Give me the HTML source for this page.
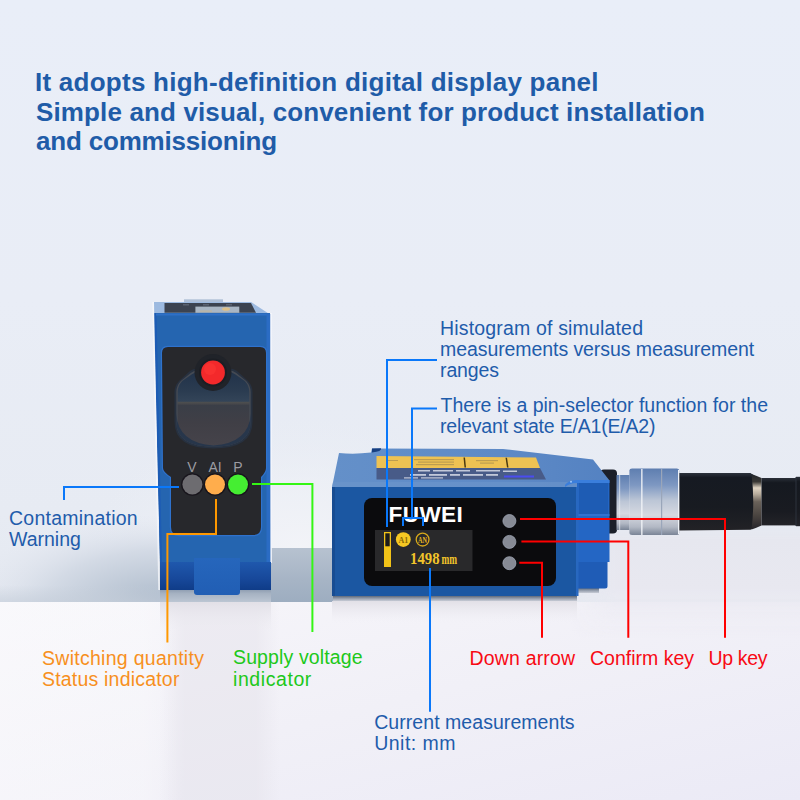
<!DOCTYPE html>
<html><head><meta charset="utf-8">
<style>
html,body{margin:0;padding:0;width:800px;height:800px;overflow:hidden;background:#e9edf6}
svg{display:block}
svg{font-family:"Liberation Sans",sans-serif}
.t{font-size:19.5px}
.b{fill:#1f5cab}
</style></head>
<body>
<svg width="800" height="800" viewBox="0 0 800 800">
<defs>
  <linearGradient id="bgTop" x1="0" y1="0" x2="0" y2="1">
    <stop offset="0" stop-color="#e9eef8"/>
    <stop offset="0.5" stop-color="#e9edf6"/>
    <stop offset="0.85" stop-color="#e7ebf3"/>
    <stop offset="1" stop-color="#e5e9f1"/>
  </linearGradient>
  <linearGradient id="bgBot" x1="0" y1="0" x2="1" y2="1">
    <stop offset="0" stop-color="#f7f6fa"/>
    <stop offset="0.5" stop-color="#f1f0f7"/>
    <stop offset="1" stop-color="#ebeaf6"/>
  </linearGradient>
  <radialGradient id="bandL" gradientUnits="userSpaceOnUse" cx="165" cy="604" r="200" gradientTransform="translate(165,604) scale(1,0.45) translate(-165,-604)">
    <stop offset="0" stop-color="#a9b7c9"/>
    <stop offset="0.25" stop-color="#bcc7d5"/>
    <stop offset="0.6" stop-color="#d3dae5"/>
    <stop offset="1" stop-color="#e3e7f0" stop-opacity="0"/>
  </radialGradient>
  <linearGradient id="bandR" x1="0" y1="0" x2="0" y2="1">
    <stop offset="0" stop-color="#e6e8f0" stop-opacity="0"/>
    <stop offset="0.12" stop-color="#e6e7ef"/>
    <stop offset="0.55" stop-color="#e8e8f0"/>
    <stop offset="1" stop-color="#eeedf5" stop-opacity="0"/>
  </linearGradient>
  <linearGradient id="shadowL" x1="0" y1="0" x2="0" y2="1">
    <stop offset="0" stop-color="#8595ab"/>
    <stop offset="0.4" stop-color="#a6b2c2"/>
    <stop offset="1" stop-color="#bcc6d3"/>
  </linearGradient>
  <linearGradient id="bandM" x1="0" y1="0" x2="0" y2="1">
    <stop offset="0" stop-color="#b7c2d0"/>
    <stop offset="0.6" stop-color="#a6b4c5"/>
    <stop offset="1" stop-color="#9dadc0"/>
  </linearGradient>
  <linearGradient id="bandV" x1="0" y1="0" x2="0" y2="1">
    <stop offset="0" stop-color="#000" stop-opacity="0"/>
    <stop offset="1" stop-color="#38506e" stop-opacity="0.12"/>
  </linearGradient>
  <linearGradient id="lens" x1="0" y1="0" x2="0" y2="1">
    <stop offset="0" stop-color="#22334a"/>
    <stop offset="0.25" stop-color="#2a3b50"/>
    <stop offset="0.40" stop-color="#334458"/>
    <stop offset="0.42" stop-color="#4e4e4e"/>
    <stop offset="0.46" stop-color="#3a3e47"/>
    <stop offset="0.7" stop-color="#403f46"/>
    <stop offset="1" stop-color="#45434a"/>
  </linearGradient>
  <linearGradient id="silver" x1="0" y1="0" x2="0" y2="1">
    <stop offset="0" stop-color="#5e7eb0"/>
    <stop offset="0.25" stop-color="#7e98c2"/>
    <stop offset="0.48" stop-color="#bcc6d6"/>
    <stop offset="0.7" stop-color="#d6d9e1"/>
    <stop offset="0.88" stop-color="#b2b8c4"/>
    <stop offset="1" stop-color="#7a8496"/>
  </linearGradient>
  <linearGradient id="black" x1="0" y1="0" x2="0" y2="1">
    <stop offset="0" stop-color="#2c323c"/>
    <stop offset="0.08" stop-color="#161a22"/>
    <stop offset="0.6" stop-color="#181b21"/>
    <stop offset="1" stop-color="#222226"/>
  </linearGradient>
  <radialGradient id="glow">
    <stop offset="0" stop-color="#f3f4f8" stop-opacity="0.95"/>
    <stop offset="0.5" stop-color="#f0f2f7" stop-opacity="0.6"/>
    <stop offset="1" stop-color="#eceff5" stop-opacity="0"/>
  </radialGradient>
  <linearGradient id="shadowR" x1="0" y1="0" x2="0" y2="1">
    <stop offset="0" stop-color="#4a5464"/>
    <stop offset="0.5" stop-color="#8a94a4"/>
    <stop offset="1" stop-color="#c8ccd6"/>
  </linearGradient>
  <linearGradient id="reflR" x1="0" y1="0" x2="0" y2="1">
    <stop offset="0" stop-color="#e2e0e7"/>
    <stop offset="1" stop-color="#eeedf3" stop-opacity="0"/>
  </linearGradient>
  <linearGradient id="bandLV" x1="0" y1="0" x2="0" y2="1">
    <stop offset="0" stop-color="#c4cdd9" stop-opacity="0"/>
    <stop offset="1" stop-color="#c4cdd9" stop-opacity="0.6"/>
  </linearGradient>
  <linearGradient id="ringG" x1="0" y1="0" x2="0" y2="1">
    <stop offset="0" stop-color="#22252a"/>
    <stop offset="0.14" stop-color="#3a3834"/>
    <stop offset="0.25" stop-color="#e0d4c2"/>
    <stop offset="0.36" stop-color="#b8ac9c"/>
    <stop offset="0.5" stop-color="#6a625a"/>
    <stop offset="0.75" stop-color="#4a4440"/>
    <stop offset="1" stop-color="#26242a"/>
  </linearGradient>
  <linearGradient id="hfade" x1="0" y1="0" x2="1" y2="0">
    <stop offset="0" stop-color="#fff" stop-opacity="0"/>
    <stop offset="0.2" stop-color="#fff" stop-opacity="1"/>
    <stop offset="1" stop-color="#fff" stop-opacity="1"/>
  </linearGradient>
  <mask id="mR" maskUnits="userSpaceOnUse" x="570" y="525" width="230" height="115"><rect x="570" y="525" width="230" height="115" fill="url(#hfade)"/></mask>
  <linearGradient id="streakW" x1="0" y1="0" x2="1" y2="0">
    <stop offset="0" stop-color="#fbfbfd" stop-opacity="0.5"/>
    <stop offset="0.8" stop-color="#fbfbfd" stop-opacity="0.4"/>
    <stop offset="1" stop-color="#fbfbfd" stop-opacity="0"/>
  </linearGradient>
  <linearGradient id="streakG" x1="0" y1="0" x2="1" y2="0">
    <stop offset="0" stop-color="#e4e2ea" stop-opacity="0"/>
    <stop offset="0.2" stop-color="#e4e2ea" stop-opacity="0.5"/>
    <stop offset="0.8" stop-color="#e4e2ea" stop-opacity="0.5"/>
    <stop offset="1" stop-color="#e4e2ea" stop-opacity="0"/>
  </linearGradient>
  <linearGradient id="cableG" x1="0" y1="0" x2="0" y2="1">
    <stop offset="0" stop-color="#2a2f38"/>
    <stop offset="0.1" stop-color="#151920"/>
    <stop offset="0.7" stop-color="#191b21"/>
    <stop offset="1" stop-color="#232328"/>
  </linearGradient>
  <linearGradient id="topR" x1="0" y1="0" x2="1" y2="0">
    <stop offset="0" stop-color="#6490c9"/>
    <stop offset="0.6" stop-color="#5e8ac6"/>
    <stop offset="1" stop-color="#5482c2"/>
  </linearGradient>
  <linearGradient id="lowL" x1="0" y1="0" x2="0" y2="1">
    <stop offset="0" stop-color="#1f58ad"/>
    <stop offset="0.6" stop-color="#17489a"/>
    <stop offset="1" stop-color="#0f3c88"/>
  </linearGradient>
  <linearGradient id="tabG" x1="0" y1="0" x2="0" y2="1">
    <stop offset="0" stop-color="#2666bc"/>
    <stop offset="1" stop-color="#215eb4"/>
  </linearGradient>
</defs>

<!-- background -->
<rect x="0" y="0" width="800" height="602" fill="url(#bgTop)"/>
<ellipse cx="300" cy="548" rx="210" ry="130" fill="url(#glow)"/>
<!-- band / table edge shadow -->
<rect x="0" y="500" width="160" height="102" fill="url(#bandL)"/>
<rect x="0" y="585" width="160" height="17" fill="url(#bandLV)"/>
<rect x="270" y="548" width="64" height="54" fill="url(#bandM)"/>
<rect x="0" y="602" width="800" height="198" fill="url(#bgBot)"/>
<rect x="0" y="602" width="180" height="198" fill="url(#streakW)"/>
<rect x="160" y="602" width="120" height="198" fill="url(#streakG)"/>
<rect x="570" y="525" width="230" height="115" fill="url(#bandR)" mask="url(#mR)"/>
<rect x="333" y="595" width="244" height="6" fill="url(#shadowR)"/>
<rect x="577" y="587" width="22" height="6" fill="url(#shadowR)"/>
<rect x="332" y="601" width="245" height="22" fill="url(#reflR)"/>
<rect x="160" y="602" width="111" height="30" fill="url(#reflR)"/>
<rect x="160" y="588" width="111" height="14" fill="url(#shadowL)"/>

<!-- ============ LEFT SENSOR ============ -->
<g id="left">
  <!-- top face -->
  <rect x="184" y="299.3" width="39" height="3" fill="#afc0d8"/>
  <polygon points="154,302 251,302 268.6,313.5 154,313.5" fill="#9dbae0"/>
  <polygon points="164.5,303 251,303 256,312.8 164.5,312.8" fill="#3c4350"/>
  <rect x="195.4" y="306.6" width="43.9" height="6.2" fill="#a9b6c4"/>
  <ellipse cx="226" cy="309" rx="4" ry="1.8" fill="#dcc08a"/>
  <rect x="200" y="310.5" width="12" height="1.2" fill="#c8b48c" opacity="0.7"/>
  <g fill="#5a6270"><rect x="183" y="304" width="6" height="1.5"/><rect x="203" y="304" width="6" height="1.5"/><rect x="226" y="304" width="6" height="1.5"/></g>
  <!-- body -->
  <path d="M154,313 L270,313 L271,562 L160,562 Z" fill="#2565b0"/>
  <path d="M154,313 L156.5,313 L162,562 L160,562 Z" fill="#1d5cb4"/>
  <path d="M152.3,302 L154,302 L160,590 L158.3,590 Z" fill="#f6f7fb" opacity="0.8"/>
  <rect x="156" y="313.5" width="114" height="2" fill="#2f70c6"/>
  <rect x="266.5" y="314" width="4" height="248" fill="#2b6cc4"/>
  <rect x="270.3" y="313" width="1.7" height="250" fill="#f4f6fb" opacity="0.85"/>
  <rect x="160" y="562" width="111" height="28" fill="url(#lowL)"/>
  <path d="M194,558 L240,558 L240,592 Q240,595 237,595 L197,595 Q194,595 194,592 Z" fill="url(#tabG)"/>
  <!-- panel -->
  <path d="M168,345.8 L260,345.8 Q267.2,345.8 267.2,353 L267.2,468 Q267.2,472.5 262.2,477.5 L262.2,527 Q262.2,536.2 253,536.2 L179,536.2 Q169.8,536.2 169.8,527 L169.8,477.5 Q161.8,472.5 161.8,468 L160.8,353 Q160.8,345.8 168,345.8 Z" fill="#2f72cc"/>
  <path d="M168,347 L260,347 Q266,347 266,353 L266,468 Q266,472 261,477 L261,527 Q261,535 253,535 L179,535 Q171,535 171,527 L171,477 Q163,472 163,468 L162,353 Q162,347 168,347 Z" fill="#27282c"/>
  <!-- lens -->
  <path d="M174.5,422 L174.5,392 Q174.5,386 179.0,381 L190.0,371.0 Q193.0,368.5 197.0,368.5 L230.0,368.5 Q234.0,368.5 237.0,371.0 L248.0,381 Q252.5,386 252.5,392 L252.5,422 Q252.5,448.5 213.5,448.5 Q174.5,448.5 174.5,422 Z" fill="#273140"/>
  <path d="M176.3,422 L176.3,392 Q176.3,386 180.8,381 L191.08,372.8 Q194.08,370.3 198.08,370.3 L228.92,370.3 Q232.92,370.3 235.92,372.8 L246.2,381 Q250.7,386 250.7,392 L250.7,422 Q250.7,446.7 213.5,446.7 Q176.3,446.7 176.3,422 Z" fill="#454a53"/>
  <path d="M177.7,422 L177.7,392 Q177.7,386 182.2,381 L191.92,374.2 Q194.92,371.7 198.92,371.7 L228.08,371.7 Q232.08,371.7 235.08,374.2 L244.8,381 Q249.3,386 249.3,392 L249.3,422 Q249.3,445.3 213.5,445.3 Q177.7,445.3 177.7,422 Z" fill="url(#lens)"/>
  <path d="M176.3,414 Q178,443 213.5,445.5 Q249,443 250.7,414 L250.7,422 Q250.7,446.7 213.5,446.7 Q176.3,446.7 176.3,422 Z" fill="#27364b"/>
  <circle cx="213" cy="372.5" r="18.5" fill="#202329"/>
  <circle cx="213" cy="372.5" r="14" fill="#1b1e24"/>
  <circle cx="213" cy="372.5" r="11.9" fill="#f3292b"/>
  <circle cx="210" cy="369" r="6" fill="#ff3a36" opacity="0.5"/>
  <!-- labels -->
  <text x="192" y="472" font-size="14" fill="#9c9ca2" text-anchor="middle">V</text>
  <text x="215" y="472" font-size="14" fill="#9c9ca2" text-anchor="middle">AI</text>
  <text x="238" y="472" font-size="14" fill="#9c9ca2" text-anchor="middle">P</text>
  <!-- LEDs -->
  <circle cx="192.4" cy="484.5" r="11.3" fill="#18151c"/>
  <circle cx="215" cy="484.5" r="11.3" fill="#18151c"/>
  <circle cx="238" cy="484.5" r="11.3" fill="#18151c"/>
  <circle cx="192.4" cy="484.5" r="10" fill="#6d6c70"/>
  <circle cx="215" cy="484.5" r="10" fill="#ffad4c"/>
  <circle cx="238" cy="484.5" r="10" fill="#45ee32"/>
</g>

<!-- ============ CONNECTOR & CABLE ============ -->
<g id="cable">
  <rect x="600" y="469.5" width="17" height="64" rx="4" fill="#1b1f29"/>
  <rect x="616.5" y="475" width="13" height="55" fill="url(#silver)"/>
  <rect x="619" y="475" width="1.2" height="55" fill="#e8ecf2" opacity="0.6"/>
  <path d="M629.4,470.5 Q629.4,468.5 632,468.5 L677,468.5 Q679.4,468.5 679.4,471 L679.4,532.5 Q679.4,535 677,535 L632,535 Q629.4,535 629.4,533 Z" fill="url(#silver)"/>
  <rect x="641.2" y="469" width="1.3" height="66" fill="#f2f4f8"/>
  <rect x="661" y="469" width="1.2" height="66" fill="#9aa6ba"/>
  <rect x="678" y="470" width="1.4" height="64" fill="#eef1f6"/>
  <path d="M679.4,473 L750.5,473 L757.5,478 L757.5,525.4 L750.5,529.7 L679.4,530.5 Z" fill="url(#black)"/>
  <path d="M751.5,474 Q757,476 761.5,478 L761.5,525.4 Q757,527.5 751.5,529.5 Q755,502 751.5,474 Z" fill="url(#ringG)"/>
  <rect x="761.5" y="478" width="35" height="47.4" fill="url(#cableG)"/>
  <rect x="796" y="476.8" width="4" height="49.4" fill="url(#cableG)"/>
  <rect x="795.5" y="477" width="1" height="49" fill="#2c323c"/>
</g>

<!-- ============ RIGHT DEVICE ============ -->
<g id="right">
  <!-- top face -->
  <path d="M339,453 Q355,454.5 371,452.5 L372,448.5 L503,449 L593,459.5 L609.5,480.5 L577,487 L332,487 Z" fill="url(#topR)"/>
  <path d="M333,482 L578,482 L577,487 L332,487 Z" fill="#6c96cc" opacity="0.6"/>
  <path d="M372,448.5 L381,448.3 Q382,451.5 372,452.5 Z" fill="#173f80"/>
  <polygon points="376.5,456 536,457.5 540,468 376.5,468" fill="#eec253"/>
  <polygon points="376.5,468 540,468 546,479.5 376.5,479.5" fill="#485b88"/>
  <rect x="504" y="475.5" width="30" height="2" fill="#4a4cf0"/>
  <g fill="#b89a50" opacity="0.9">
    <rect x="414" y="459" width="40" height="1.2"/><rect x="418" y="461.5" width="36" height="1.2"/><rect x="416" y="464" width="38" height="1.2"/>
    <rect x="476" y="460" width="22" height="1.2"/><rect x="480" y="462.5" width="14" height="1.2"/>
    <rect x="388" y="460" width="10" height="1"/>
  </g>
  <path d="M463.5,457.5 L465,457.5 L466,467.5 L464.5,467.5 Z" fill="#4a3a10"/>
  <path d="M505.5,457.8 L507,457.8 L508.5,467.5 L507,467.5 Z" fill="#4a3a10"/>
  <g fill="#d8dce8" opacity="0.85">
    <rect x="418" y="470" width="12" height="1.5"/><rect x="433" y="470" width="20" height="1.5"/><rect x="456" y="470" width="14" height="1.5"/><rect x="476" y="470" width="24" height="1.5"/><rect x="503" y="470.5" width="14" height="1.5"/>
    <rect x="410" y="474" width="16" height="1.8"/><rect x="429" y="474" width="18" height="1.8"/><rect x="450" y="474" width="10" height="1.8"/><rect x="463" y="474" width="20" height="1.8"/><rect x="486" y="474" width="12" height="1.8"/>
    <rect x="404" y="477.3" width="14" height="1.2"/><rect x="421" y="477.3" width="22" height="1.2"/>
  </g>
  <!-- front face -->
  <path d="M332,487 L577,487 L577,596 L337,596 Q332,596 332,591 Z" fill="#1b57a2"/>
  <rect x="332" y="487" width="3" height="109" fill="#174c92"/>
  <!-- mounting block -->
  <path d="M577,480.5 L609.5,480.5 L609.5,562 L577,562 Z" fill="#2466c4"/>
  <path d="M579,482 L608,482 L608,515 L579,515 Z" fill="#1e5cb4"/>
  <path d="M565,485 Q568,480.5 577,480 L609.5,480 L609.5,483 L577,483 Q570,483 565,487 Z" fill="#3a7edc"/>
  <circle cx="571" cy="481.8" r="1" fill="#9cc4f4"/>
  <rect x="577" y="514" width="32.5" height="2" fill="#3272d0"/>
  <path d="M577,562 L607.5,562 L607.5,586 Q607.5,588.5 605,588.5 L577,588.5 Z" fill="#1f5cb6"/>
  <rect x="576" y="487" width="2.5" height="109" fill="#2868c0"/>
  <!-- screen -->
  <rect x="364" y="498" width="192" height="88" rx="8" fill="#0b0b0d"/>
  <text x="388.5" y="521.8" font-size="22.6" font-weight="bold" fill="#ffffff" textLength="74.3" lengthAdjust="spacing">FUWEI</text>
  <rect x="375" y="530" width="97.5" height="41" fill="#29292b"/>
  <rect x="384" y="532" width="7" height="35" fill="#f2c318"/>
  <rect x="385.3" y="533.3" width="4.4" height="13" fill="#1b1b1c"/>
  <circle cx="403.3" cy="539.6" r="7.4" fill="#f6c823"/>
  <text x="403.3" y="542.6" font-size="8" font-weight="bold" font-family="Liberation Serif" fill="#8a6a08" text-anchor="middle">A1</text>
  <circle cx="422.6" cy="539.6" r="6.4" fill="none" stroke="#d9a91a" stroke-width="1.3"/>
  <text x="422.6" y="542.6" font-size="8" font-weight="bold" font-family="Liberation Serif" fill="#e8b820" text-anchor="middle" textLength="9" lengthAdjust="spacingAndGlyphs">AN</text>
  <text x="410" y="563.7" font-size="16" font-weight="bold" font-family="Liberation Serif" fill="#f2c42a" textLength="29.5" lengthAdjust="spacingAndGlyphs">1498</text>
  <text x="441.5" y="563.7" font-size="14" font-weight="bold" font-family="Liberation Serif" fill="#f2c42a" textLength="15.6" lengthAdjust="spacingAndGlyphs">mm</text>
  <!-- buttons -->
  <g fill="#878b95" stroke="#9ea6b4" stroke-width="0.8">
  <circle cx="509.4" cy="521" r="6.5"/>
  <circle cx="509.4" cy="541.9" r="6.5"/>
  <circle cx="509.4" cy="563.2" r="6.5"/>
  </g>
</g>

<!-- ============ CALLOUT LINES ============ -->
<g fill="none" stroke-width="2">
  <polyline points="64,500 64,487 179,487" stroke="#0a78fa"/>
  <polyline points="437,360 387,360 387,527" stroke="#0a78fa"/>
  <polyline points="437,408.5 412,408.5 412,518" stroke="#0a78fa"/>
  <polyline points="403,526 403,518 423,518 423,526" stroke="#0a78fa"/>
  <polyline points="430,568 430,711.8" stroke="#0a78fa"/>
  <polyline points="252,484 312.4,484 312.4,632" stroke="#34f614"/>
  <polyline points="216,499 216,534 167.4,534 167.4,642.6" stroke="#ff9800"/>
  <polyline points="520,519 725,519 725,637.7" stroke="#ff0000"/>
  <polyline points="521.4,541.5 628.3,541.5 628.3,637.7" stroke="#ff0000"/>
  <polyline points="519.3,562.8 542,562.8 542,637.7" stroke="#ff0000"/>
</g>

<!-- ============ TEXT ============ -->
<g font-weight="bold" font-size="26" fill="#1f5ca8">
  <text x="35" y="90.8" textLength="563.5" lengthAdjust="spacing">It adopts high-definition digital display panel</text>
  <text x="36" y="120.8" textLength="668.8" lengthAdjust="spacing">Simple and visual, convenient for product installation</text>
  <text x="36" y="150.3" textLength="241.1" lengthAdjust="spacing">and commissioning</text>
</g>
<g class="t">
  <text class="b" x="440" y="334.5" textLength="203" lengthAdjust="spacing">Histogram of simulated</text>
  <text class="b" x="440" y="355.8" textLength="314.2" lengthAdjust="spacing">measurements versus measurement</text>
  <text class="b" x="440" y="377" textLength="59.1" lengthAdjust="spacing">ranges</text>
  <text class="b" x="440.5" y="411.8" textLength="327.5" lengthAdjust="spacing">There is a pin-selector function for the</text>
  <text class="b" x="440" y="433.3" textLength="215.5" lengthAdjust="spacing">relevant state E/A1(E/A2)</text>
  <text class="b" x="9" y="524.5" textLength="128.7" lengthAdjust="spacing">Contamination</text>
  <text class="b" x="9" y="546">Warning</text>
  <text x="42" y="665" fill="#f7901e" textLength="161.9" lengthAdjust="spacing">Switching quantity</text>
  <text x="42" y="686" fill="#f7901e" textLength="137.4" lengthAdjust="spacing">Status indicator</text>
  <text x="233" y="664" fill="#20c81a" textLength="129.5" lengthAdjust="spacing">Supply voltage</text>
  <text x="233" y="685.6" fill="#20c81a" textLength="78.3" lengthAdjust="spacing">indicator</text>
  <text x="469.5" y="665.2" fill="#f80a14" textLength="105.6" lengthAdjust="spacing">Down arrow</text>
  <text x="590" y="665.2" fill="#f80a14">Confirm key</text>
  <text x="708.5" y="665.2" fill="#f80a14" textLength="58.9" lengthAdjust="spacing">Up key</text>
  <text class="b" x="374.2" y="729" textLength="200.4" lengthAdjust="spacing">Current measurements</text>
  <text class="b" x="374.2" y="750" textLength="81.4" lengthAdjust="spacing">Unit: mm</text>
</g>
</svg>
</body></html>
